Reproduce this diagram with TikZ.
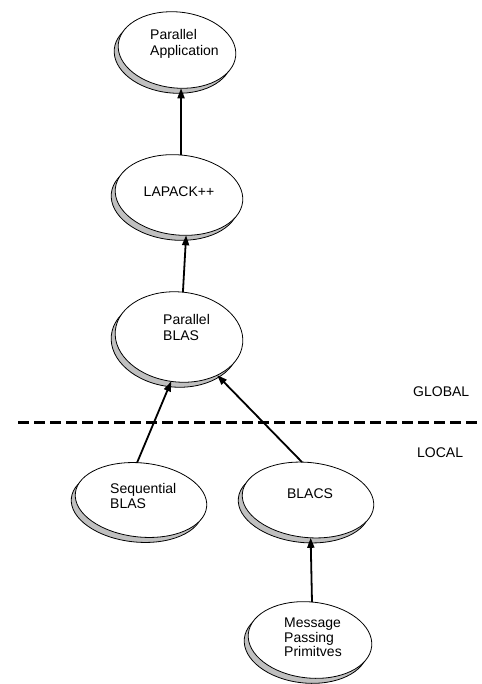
\documentclass[tikz,border=0pt]{standalone}
\usepackage{fontspec}
\setmainfont{Liberation Sans}
\usetikzlibrary{arrows.meta,shapes.geometric}
\definecolor{shadowgray}{HTML}{C0C0C0}
\begin{document}
\begin{tikzpicture}[x=1pt,y=-1pt,
  ellbase/.style={shape=ellipse, inner sep=0pt, outer sep=0pt, rotate=-6, line width=0.8pt, draw=black},
  mainell/.style={ellbase, fill=white},
  shadell/.style={ellbase, fill=shadowgray},
  lbl/.style={font=\fontsize{14}{16}\selectfont, align=left, inner sep=0pt},
  lbltight/.style={font=\fontsize{14}{14.5}\selectfont, align=left, inner sep=0pt},
  lblone/.style={font=\fontsize{14}{16}\selectfont, inner sep=0pt},
  arr/.style={line width=1.8pt, -{Triangle[length=10pt,width=7pt]}},
  divider/.style={line width=3pt, dash pattern=on 11pt off 5pt}
]
\path[use as bounding box] (0,0) rectangle (481,684);

% Parallel Application
\node[shadell, minimum width=118pt, minimum height=76pt] (pa-s) at (173,55) {};
\node[mainell, minimum width=118pt, minimum height=76pt] (pa) at (177,50) {};
\node[lbl, anchor=west] (pa-t) at (150,44) {Parallel\\Application};

% LAPACK++
\node[shadell, minimum width=128pt, minimum height=80pt] (lap-s) at (175,200) {};
\node[mainell, minimum width=128pt, minimum height=80pt] (lap) at (179,195) {};
\node[lblone, anchor=base] (lap-t) at (179,197) {LAPACK++};

% Parallel BLAS
\node[shadell, minimum width=128pt, minimum height=90pt] (pb-s) at (175,342) {};
\node[mainell, minimum width=128pt, minimum height=90pt] (pb) at (179,337) {};
\node[lbl, anchor=west] (pb-t) at (163,327) {Parallel\\BLAS};

% Sequential BLAS
\node[shadell, minimum width=132pt, minimum height=74pt] (seq-s) at (137,505) {};
\node[mainell, minimum width=132pt, minimum height=74pt] (seq) at (141,500) {};
\node[lbltight, anchor=west] (seq-t) at (110,496) {Sequential\\BLAS};

% BLACS
\node[shadell, minimum width=132pt, minimum height=75pt] (blacs-s) at (304,505) {};
\node[mainell, minimum width=132pt, minimum height=75pt] (blacs) at (308,500) {};
\node[lblone, anchor=base] (blacs-t) at (310,498) {BLACS};

% Message Passing Primitives
\node[shadell, minimum width=124pt, minimum height=76pt] (mp-s) at (306,645) {};
\node[mainell, minimum width=124pt, minimum height=76pt] (mp) at (310,640) {};
\node[lbltight, anchor=west] (mp-t) at (284,637.5) {Message\\Passing\\Primitves};

% arrows
\draw[arr] (lap.93) -- (pa.-78);
\draw[arr] (pb.91) -- (lap.-74);
\draw[arr] (seq.102) -- (pb.-94);
\draw[arr] (blacs.105) -- (pb.-39);
\draw[arr] (mp.93) -- (blacs.-80);

% global / local divider
\coordinate (dl) at (18,422);
\coordinate (dr) at (481,422);
\draw[divider] (dl) -- (dr);
\node[lblone, anchor=base west] (global) at (413,396) {GLOBAL};
\node[lblone, anchor=base west] (local) at (417,457) {LOCAL};
\end{tikzpicture}
\end{document}
